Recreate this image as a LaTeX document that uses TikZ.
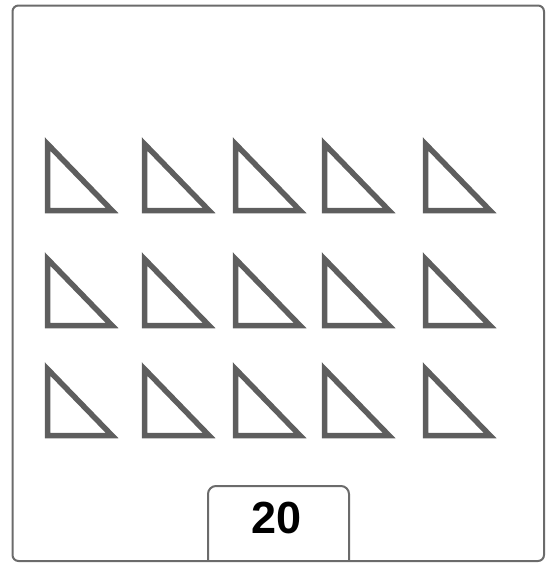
\documentclass[tikz,border=0pt]{standalone}
\usepackage{fontspec}
\setsansfont{Liberation Sans}
\usetikzlibrary{positioning}
\definecolor{Frame}{HTML}{6B6B6B}
\definecolor{Shape}{HTML}{5E5E5E}

\begin{document}
\begin{tikzpicture}[x=1pt, y=-1pt,
    frm/.style={draw=Frame, line width=2pt, rounded corners=6pt},
    tri/.style={draw=Shape, line width=5.5pt, line join=miter},
    cnt/.style={font=\sffamily\bfseries\fontsize{45}{45}\selectfont, anchor=base}]
    \useasboundingbox (0,0) rectangle (549,563);
    \draw[frm] (12.5,5.5) rectangle (544,561);
    % 3 rows x 5 columns of right triangles
    \foreach \y in {144,259,369} {
      \foreach \x in {47.5,144.5,235.5,324.5,425.5} {
        \draw[tri] (\x,\y) -- (\x,\y+66.5) -- (\x+64.5,\y+66.5) -- cycle;
      }
    }
    \draw[frm, rounded corners=8pt] (208,561) -- (208,486) -- (349,486) -- (349,561);
    \node[cnt] (count) at (277,533) {20};
  \end{tikzpicture}
\end{document}
